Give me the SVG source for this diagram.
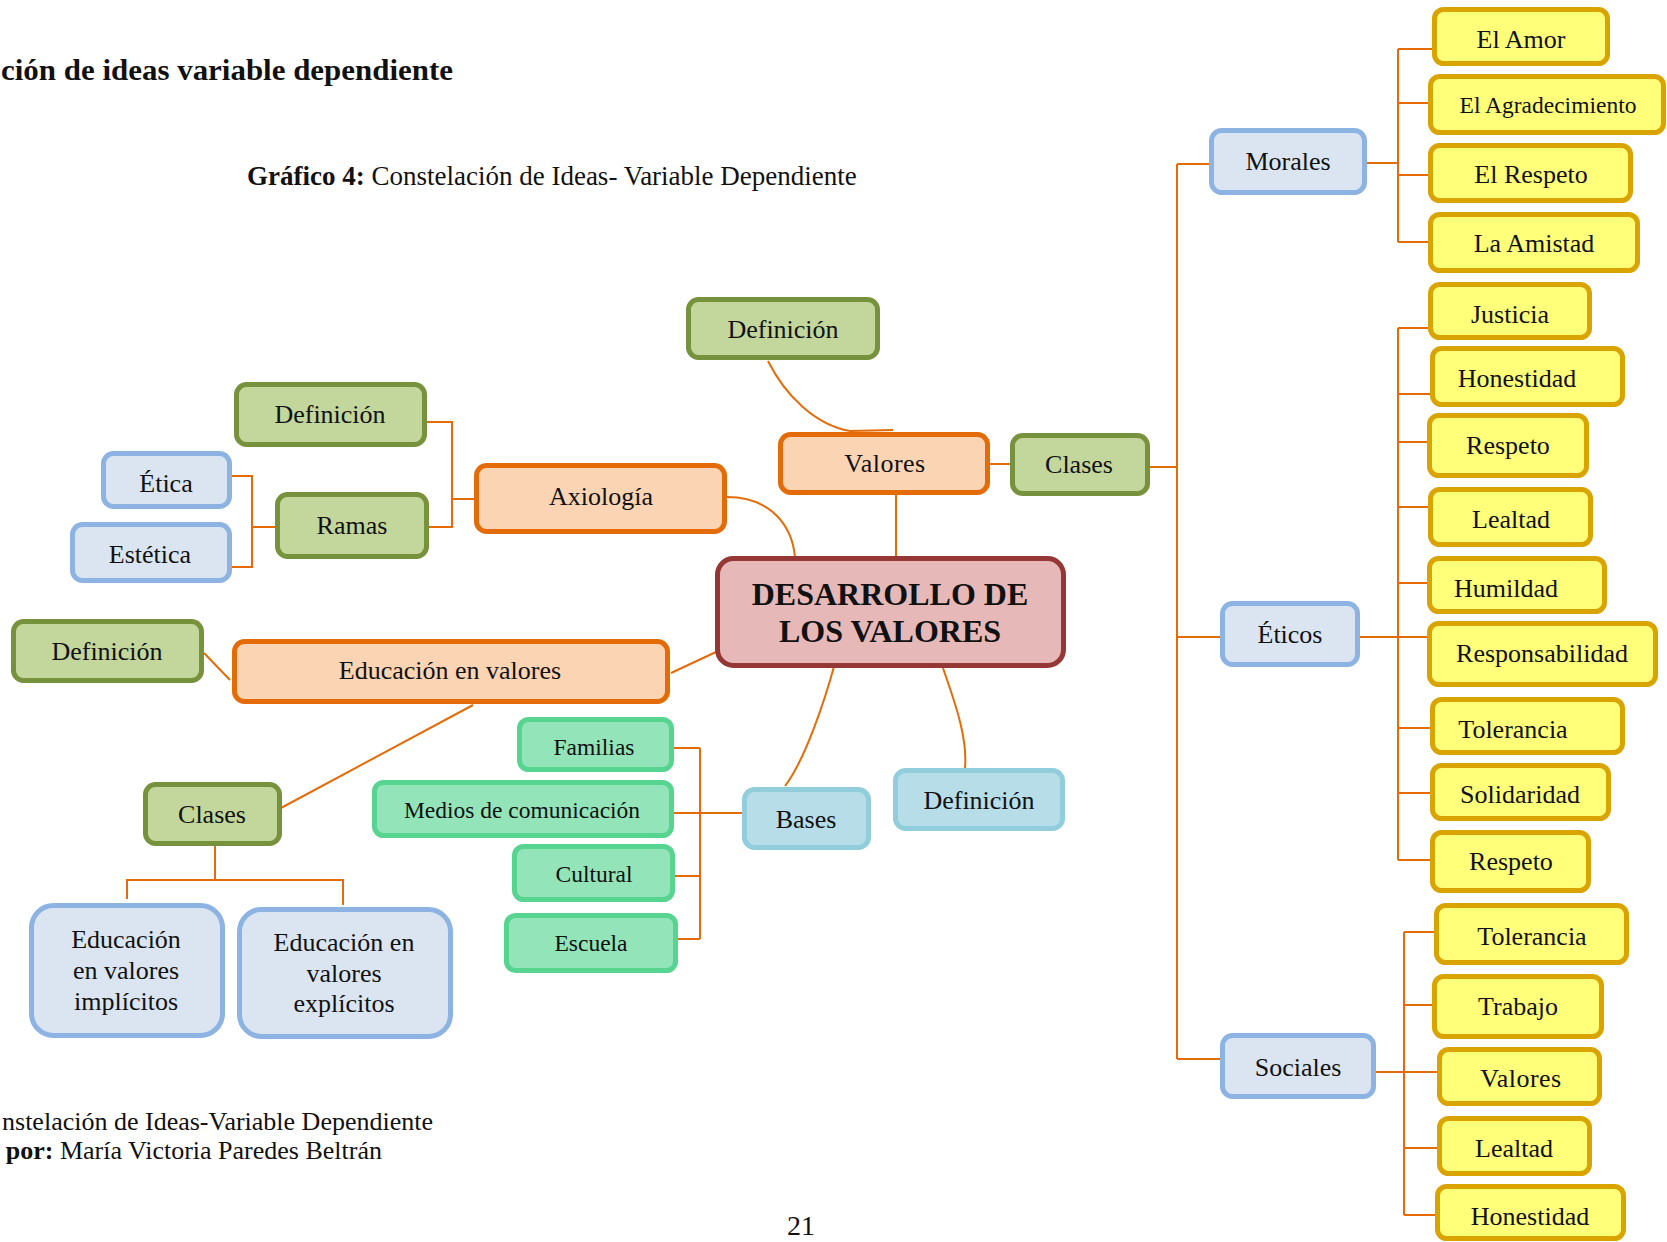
<svg xmlns="http://www.w3.org/2000/svg" width="1667" height="1242" viewBox="0 0 1667 1242">
<style>
text{font-family:"Liberation Serif","Times New Roman",serif;fill:#111;}
.n{font-size:26px;text-anchor:middle;}
.s{font-size:23.5px;text-anchor:middle;}
.b{stroke-width:5;}
.or{fill:#FBD4B4;stroke:#E36C09;}
.gr{fill:#C3D69B;stroke:#76923C;}
.bl{fill:#DBE5F1;stroke:#8DB3E2;}
.lb{fill:#B7DDE8;stroke:#92CDDC;}
.tg{fill:#93E4B8;stroke:#57D490;}
.ye{fill:#FFFF7A;stroke:#D9A400;}
.ce{fill:#E6B9B8;stroke:#953735;}
.c{fill:none;stroke:#E36C09;stroke-width:2;}
</style>
<rect width="1667" height="1242" fill="#fff"/>
<g id="titles">
<text x="1" y="80" font-size="29" font-weight="bold" textLength="452" lengthAdjust="spacingAndGlyphs">ción de ideas variable dependiente</text>
<text x="247" y="185" font-size="27"><tspan font-weight="bold">Gráfico 4:</tspan> Constelación de Ideas- Variable Dependiente</text>
<text x="433" y="1130" font-size="26" text-anchor="end">nstelación de Ideas-Variable Dependiente</text>
<text x="382" y="1159" font-size="26" text-anchor="end"><tspan font-weight="bold">por:</tspan> María Victoria Paredes Beltrán</text>
<text x="801" y="1235" font-size="28" text-anchor="middle">21</text>
</g>
<g id="connectors">
<path class="c" d="M1177,164 V1059 M1177,164 H1209 M1177,637 H1220 M1177,1059 H1220 M1150,467 H1177"/>
<path class="c" d="M1367,163 H1398 M1398,49 V242 M1398,49 H1432 M1398,103 H1428 M1398,175 H1428 M1398,242 H1428"/>
<path class="c" d="M1398,328 V860 M1360,637 H1428 M1398,328 H1428 M1398,394 H1430 M1398,442 H1427 M1398,507 H1428 M1398,583 H1427 M1398,728 H1430 M1398,793 H1430 M1398,860 H1430"/>
<path class="c" d="M1404,932 V1215 M1376,1072 H1437 M1404,932 H1434 M1404,1005 H1432 M1404,1148 H1437 M1404,1215 H1435"/>
<path class="c" d="M990,464 H1010 M896,495 V557"/>
<path class="c" d="M768,361 C785,395 815,425 850,431 L893,430"/>
<path class="c" d="M727,497 C770,497 792,525 795,557"/>
<path class="c" d="M427,422 H452 V527 H429 M452,499 H474"/>
<path class="c" d="M232,476 H252 V567 H232 M252,527 H275"/>
<path class="c" d="M204,653 L230,680 M671,673 L716,652 M473,705 L281,808"/>
<path class="c" d="M215,846 V880 M127,899 V880 H343 V905"/>
<path class="c" d="M700,748 V939 M674,748 H700 M674,813 H744 M675,876 H700 M678,939 H700"/>
<path class="c" d="M835,663 C825,700 805,760 785,786"/>
<path class="c" d="M943,668 C952,695 968,735 965,768"/>
</g>
<g id="n-def-valores"><rect class="b gr" x="688.5" y="299.5" width="189" height="58" rx="10"/><text class="n" x="783" y="338">Definición</text></g>
<g id="n-valores"><rect class="b or" x="780.5" y="434.5" width="207" height="58" rx="10"/><text class="n" x="885" y="472" letter-spacing="0.5">Valores</text></g>
<g id="n-clases-r"><rect class="b gr" x="1012.5" y="435.5" width="135" height="58" rx="10"/><text class="n" x="1079" y="473">Clases</text></g>
<g id="n-center"><rect class="b ce" x="717.5" y="558.5" width="346" height="107" rx="16"/><text x="890" y="605" font-size="32" font-weight="bold" text-anchor="middle">DESARROLLO DE</text><text x="890" y="642" font-size="32" font-weight="bold" text-anchor="middle">LOS VALORES</text></g>
<g id="n-def-axio"><rect class="b gr" x="236.5" y="384.5" width="188" height="60" rx="10"/><text class="n" x="330" y="423">Definición</text></g>
<g id="n-etica"><rect class="b bl" x="103.5" y="453.5" width="126" height="53" rx="10"/><text class="n" x="166" y="492">Ética</text></g>
<g id="n-estetica"><rect class="b bl" x="72.5" y="524.5" width="157" height="56" rx="10"/><text class="n" x="150" y="563">Estética</text></g>
<g id="n-ramas"><rect class="b gr" x="277.5" y="494.5" width="149" height="62" rx="10"/><text class="n" x="352" y="534">Ramas</text></g>
<g id="n-axiologia"><rect class="b or" x="476.5" y="465.5" width="248" height="66" rx="10"/><text class="n" x="601" y="505">Axiología</text></g>
<g id="n-def-edu"><rect class="b gr" x="13.5" y="621.5" width="188" height="59" rx="10"/><text class="n" x="107" y="660">Definición</text></g>
<g id="n-edu"><rect class="b or" x="234.5" y="641.5" width="433" height="60" rx="10"/><text class="n" x="450" y="679">Educación en valores</text></g>
<g id="n-clases-l"><rect class="b gr" x="145.5" y="784.5" width="134" height="59" rx="10"/><text class="n" x="212" y="823">Clases</text></g>
<g id="n-implicitos"><rect class="b bl" x="31.5" y="905.5" width="191" height="130" rx="22"/><text class="n" x="126" y="948">Educación</text><text class="n" x="126" y="979">en valores</text><text class="n" x="126" y="1010">implícitos</text></g>
<g id="n-explicitos"><rect class="b bl" x="239.5" y="909.5" width="211" height="127" rx="22"/><text class="n" x="344" y="951">Educación en</text><text class="n" x="344" y="982">valores</text><text class="n" x="344" y="1012">explícitos</text></g>
<g id="n-familias"><rect class="b tg" x="519.5" y="719.5" width="152" height="50" rx="9"/><text class="s" x="594" y="755">Familias</text></g>
<g id="n-medios"><rect class="b tg" x="374.5" y="782.5" width="297" height="53" rx="9"/><text class="s" x="522" y="818">Medios de comunicación</text></g>
<g id="n-cultural"><rect class="b tg" x="514.5" y="846.5" width="158" height="53" rx="9"/><text class="s" x="594" y="882">Cultural</text></g>
<g id="n-escuela"><rect class="b tg" x="506.5" y="915.5" width="169" height="55" rx="9"/><text class="s" x="591" y="951">Escuela</text></g>
<g id="n-bases"><rect class="b lb" x="744.5" y="789.5" width="124" height="58" rx="10"/><text class="n" x="806" y="828">Bases</text></g>
<g id="n-def-blue"><rect class="b lb" x="895.5" y="770.5" width="167" height="58" rx="10"/><text class="n" x="979" y="809">Definición</text></g>
<g id="n-morales"><rect class="b bl" x="1211.5" y="130.5" width="153" height="62" rx="10"/><text class="n" x="1288" y="170">Morales</text></g>
<g id="n-eticos"><rect class="b bl" x="1222.5" y="603.5" width="135" height="61" rx="10"/><text class="n" x="1290" y="643">Éticos</text></g>
<g id="n-sociales"><rect class="b bl" x="1222.5" y="1035.5" width="151" height="61" rx="10"/><text class="n" x="1298" y="1076">Sociales</text></g>
<g id="n-amor"><rect class="b ye" x="1434.5" y="9.5" width="173" height="54" rx="9"/><text class="n" x="1521" y="48">El Amor</text></g>
<g id="n-agradecimiento"><rect class="b ye" x="1430.5" y="76.5" width="233" height="56" rx="9"/><text class="s" x="1548" y="113">El Agradecimiento</text></g>
<g id="n-el-respeto"><rect class="b ye" x="1430.5" y="145.5" width="200" height="55" rx="9"/><text class="n" x="1531" y="183">El Respeto</text></g>
<g id="n-amistad"><rect class="b ye" x="1430.5" y="214.5" width="207" height="56" rx="9"/><text class="n" x="1534" y="252">La Amistad</text></g>
<g id="n-justicia"><rect class="b ye" x="1430.5" y="284.5" width="159" height="53" rx="9"/><text class="n" x="1510" y="323">Justicia</text></g>
<g id="n-honestidad"><rect class="b ye" x="1432.5" y="348.5" width="190" height="56" rx="9"/><text class="n" x="1517" y="387">Honestidad</text></g>
<g id="n-respeto"><rect class="b ye" x="1429.5" y="415.5" width="157" height="60" rx="9"/><text class="n" x="1508" y="454">Respeto</text></g>
<g id="n-lealtad"><rect class="b ye" x="1430.5" y="489.5" width="160" height="55" rx="9"/><text class="n" x="1511" y="528">Lealtad</text></g>
<g id="n-humildad"><rect class="b ye" x="1429.5" y="558.5" width="175" height="53" rx="9"/><text class="n" x="1506" y="597">Humildad</text></g>
<g id="n-responsabilidad"><rect class="b ye" x="1429.5" y="623.5" width="226" height="61" rx="9"/><text class="n" x="1542" y="662">Responsabilidad</text></g>
<g id="n-tolerancia"><rect class="b ye" x="1432.5" y="699.5" width="190" height="53" rx="9"/><text class="n" x="1513" y="738">Tolerancia</text></g>
<g id="n-solidaridad"><rect class="b ye" x="1432.5" y="765.5" width="176" height="53" rx="9"/><text class="n" x="1520" y="803">Solidaridad</text></g>
<g id="n-respeto2"><rect class="b ye" x="1432.5" y="832.5" width="156" height="58" rx="9"/><text class="n" x="1511" y="870">Respeto</text></g>
<g id="n-tolerancia2"><rect class="b ye" x="1436.5" y="905.5" width="190" height="57" rx="9"/><text class="n" x="1532" y="945">Tolerancia</text></g>
<g id="n-trabajo"><rect class="b ye" x="1434.5" y="976.5" width="167" height="60" rx="9"/><text class="n" x="1518" y="1015">Trabajo</text></g>
<g id="n-valores2"><rect class="b ye" x="1439.5" y="1049.5" width="160" height="54" rx="9"/><text class="n" x="1521" y="1087" letter-spacing="0.5">Valores</text></g>
<g id="n-lealtad2"><rect class="b ye" x="1439.5" y="1118.5" width="150" height="55" rx="9"/><text class="n" x="1514" y="1157">Lealtad</text></g>
<g id="n-honestidad2"><rect class="b ye" x="1437.5" y="1186.5" width="186" height="52" rx="9"/><text class="n" x="1530" y="1225">Honestidad</text></g>
</svg>
